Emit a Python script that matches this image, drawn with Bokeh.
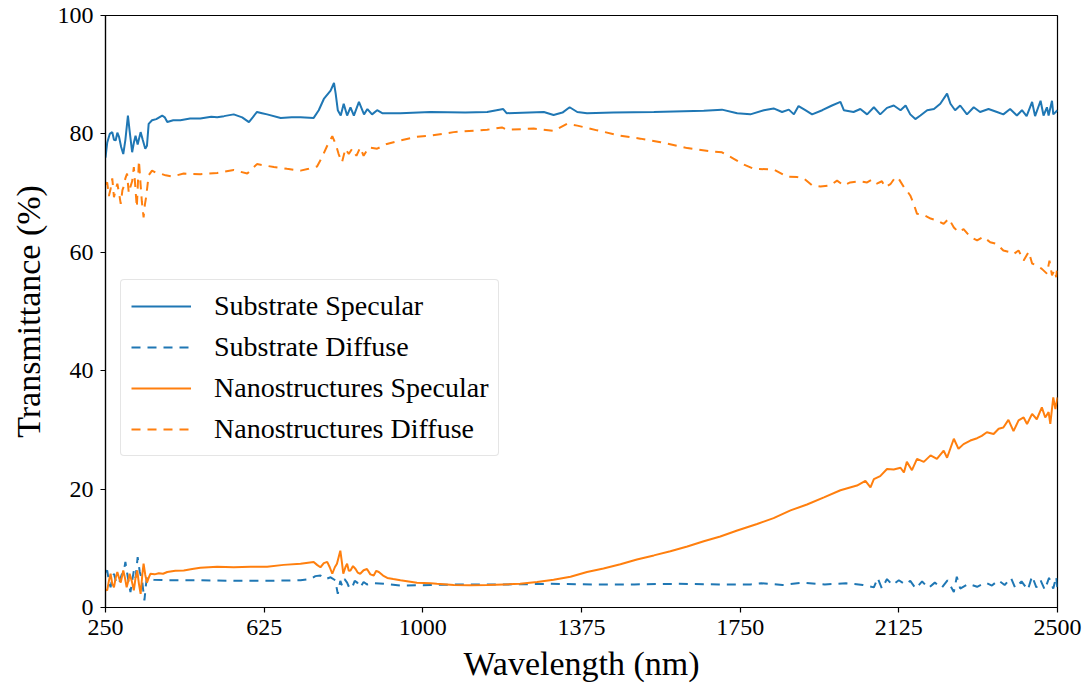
from bokeh.plotting import figure
from bokeh.models import Range1d, FixedTicker, Legend, LegendItem
from bokeh.embed import file_html
from bokeh.resources import INLINE

# ---- data ----
ss_x = [250, 254, 260, 266, 270, 274, 278, 282, 287, 292, 297, 303, 307, 313, 317, 321, 326, 333, 338, 344,
        348, 352, 360, 370, 384, 390, 396, 410, 427, 450, 474, 500, 514, 530, 553, 573, 589, 598, 608, 620,
        632, 664, 690, 711, 742, 754, 766, 782, 790, 794, 799, 806, 813, 821, 829, 837, 849, 861, 869, 880,
        892, 904, 947, 1018, 1100, 1152, 1190, 1198, 1286, 1309, 1330, 1347, 1365, 1388, 1450, 1546, 1664,
        1707, 1743, 1774, 1806, 1829, 1849, 1865, 1877, 1888, 1904, 1920, 1944, 1967, 1987, 1995, 2018, 2034,
        2050, 2066, 2081, 2097, 2113, 2129, 2141, 2152, 2164, 2176, 2192, 2208, 2223, 2239, 2247, 2258, 2270,
        2286, 2302, 2317, 2337, 2357, 2372, 2388, 2404, 2416, 2427, 2440, 2447, 2460, 2467, 2475, 2479, 2487,
        2490, 2500]
ss_y = [76.0, 78.5, 80.0, 80.3, 79.0, 78.9, 80.2, 79.5, 77.8, 76.6, 79.0, 83.1, 80.5, 76.9, 78.5, 79.7, 78.2,
        80.3, 79.0, 77.5, 78.0, 81.7, 82.3, 82.5, 83.1, 82.8, 82.0, 82.3, 82.3, 82.6, 82.6, 82.9, 82.8, 83.0,
        83.3, 82.8, 82.0, 82.8, 83.7, 83.5, 83.3, 82.7, 82.8, 82.8, 82.7, 84.0, 85.9, 87.3, 88.6, 86.8, 84.0,
        83.1, 85.1, 83.1, 84.5, 83.1, 85.4, 83.3, 84.2, 83.3, 84.0, 83.5, 83.5, 83.7, 83.6, 83.7, 84.2, 83.5,
        83.7, 83.2, 83.6, 84.5, 83.7, 83.5, 83.6, 83.7, 83.9, 84.1, 83.5, 83.3, 84.0, 84.3, 83.7, 84.1, 83.3,
        84.7, 84.0, 83.3, 84.0, 84.8, 85.4, 84.0, 83.7, 84.2, 83.3, 84.5, 83.3, 84.4, 84.8, 84.0, 84.8, 83.3,
        82.5, 83.1, 84.0, 84.2, 85.1, 86.8, 85.1, 84.0, 84.8, 83.3, 84.5, 83.7, 84.2, 83.7, 83.3, 84.2, 83.1,
        84.0, 83.0, 85.4, 83.0, 85.6, 83.1, 84.5, 83.1, 85.6, 83.3, 84.0]

sd_x = [250, 254, 258, 262, 266, 270, 276, 282, 288, 293, 297, 303, 309, 313, 317, 321, 326, 331, 336, 342,
        345, 348, 356, 364, 396, 474, 553, 632, 711, 734, 746, 758, 770, 782, 793, 799, 805, 809, 815, 821,
        827, 833, 839, 845, 852, 860, 868, 880, 908, 947, 1018, 1100, 1200, 1300, 1400, 1500, 1600, 1700,
        1774, 1800, 1850, 1900, 1950, 2000, 2040, 2066, 2075, 2085, 2097, 2110, 2125, 2140, 2152, 2165, 2180,
        2195, 2210, 2226, 2240, 2255, 2262, 2270, 2290, 2310, 2330, 2345, 2360, 2375, 2390, 2400, 2415, 2430,
        2440, 2450, 2460, 2470, 2480, 2490, 2497, 2500]
sd_y = [6.0, 6.25, 4.5, 3.4, 5.0, 5.7, 4.0, 4.1, 5.5, 6.0, 7.7, 5.0, 2.6, 4.5, 6.25, 5.0, 8.5, 6.0, 4.8, 1.2,
        3.5, 5.1, 4.8, 4.7, 4.6, 4.6, 4.5, 4.5, 4.6, 4.8, 5.3, 5.4, 4.8, 5.1, 4.6, 2.3, 4.5, 3.7, 4.8, 4.2,
        3.2, 3.4, 4.5, 4.2, 3.4, 4.3, 3.9, 4.1, 4.0, 3.7, 3.8, 3.9, 3.9, 4.0, 3.9, 3.9, 4.0, 3.9, 3.9, 4.1,
        3.8, 4.2, 3.9, 4.1, 3.8, 3.4, 5.0, 3.2, 4.8, 3.8, 4.6, 3.9, 4.5, 3.2, 4.4, 3.3, 4.2, 3.3, 4.6, 2.6,
        5.2, 3.2, 4.0, 3.5, 4.2, 3.7, 4.6, 3.8, 5.0, 3.3, 4.4, 3.0, 5.3, 3.4, 4.6, 3.0, 5.0, 3.2, 5.2, 3.0]

ns_x = [250, 254, 258, 262, 266, 270, 274, 278, 282, 286, 292, 296, 300, 304, 307, 312, 317, 321, 325, 329,
        333, 337, 340, 344, 348, 352, 356, 366, 376, 386, 396, 415, 435, 455, 474, 494, 514, 553, 593, 632,
        671, 711, 742, 750, 758, 766, 774, 780, 786, 792, 797, 801, 805, 809, 812, 817, 821, 825, 829, 835,
        841, 846, 852, 860, 868, 876, 884, 890, 896, 906, 916, 930, 947, 986, 1018, 1033, 1073, 1112, 1152,
        1191, 1230, 1270, 1309, 1349, 1388, 1427, 1467, 1506, 1546, 1585, 1625, 1664, 1703, 1743, 1790, 1829,
        1869, 1908, 1948, 1987, 2026, 2046, 2058, 2066, 2081, 2097, 2113, 2129, 2137, 2144, 2156, 2168, 2184,
        2200, 2215, 2231, 2239, 2255, 2266, 2278, 2294, 2310, 2321, 2333, 2349, 2361, 2372, 2384, 2396, 2408,
        2420, 2428, 2440, 2451, 2463, 2471, 2479, 2483, 2490, 2495, 2500]
ns_y = [3.0, 2.9, 4.5, 5.7, 4.0, 3.4, 5.0, 6.0, 5.0, 4.2, 6.25, 5.0, 3.4, 4.5, 5.7, 4.5, 2.9, 5.0, 6.25, 4.0,
        2.3, 5.5, 7.4, 5.5, 4.2, 5.0, 5.7, 5.6, 5.8, 5.7, 6.0, 6.2, 6.25, 6.5, 6.7, 6.8, 6.9, 6.8, 6.9, 6.9,
        7.2, 7.4, 7.7, 7.2, 6.8, 7.5, 7.7, 6.8, 5.7, 6.8, 7.4, 8.5, 9.6, 7.5, 5.7, 6.8, 7.4, 6.2, 6.25, 7.0,
        6.5, 5.9, 5.7, 6.3, 6.5, 5.6, 5.4, 6.2, 6.0, 5.4, 5.0, 4.8, 4.6, 4.2, 4.1, 4.0, 3.8, 3.75, 3.8,
        3.9, 4.0, 4.3, 4.7, 5.2, 6.0, 6.6, 7.3, 8.1, 8.8, 9.5, 10.3, 11.2, 12.0, 13.0, 14.1, 15.1,
        16.4, 17.4, 18.6, 19.8, 20.6, 21.4, 20.3, 21.7, 22.2, 23.4, 23.3, 23.6, 22.8, 24.6, 23.2, 25.1, 24.6,
        25.7, 25.1, 26.5, 25.3, 28.5, 26.8, 27.6, 28.2, 28.6, 29.0, 29.6, 29.3, 30.2, 30.4, 31.7, 29.8, 31.6,
        32.1, 31.0, 32.7, 31.8, 33.8, 32.1, 33.0, 31.0, 35.5, 33.5, 35.5]

nd_x = [250, 254, 258, 262, 266, 270, 274, 278, 282, 286, 290, 293, 297, 301, 305, 309, 313, 317, 320, 324,
        329, 333, 336, 340, 343, 346, 352, 360, 368, 380, 392, 407, 435, 474, 514, 553, 585, 608, 648, 679,
        711, 730, 750, 762, 774, 786, 794, 801, 809, 817, 825, 833, 843, 852, 860, 872, 892, 915, 947, 986,
        1018, 1073, 1152, 1187, 1199, 1262, 1309, 1341, 1365, 1412, 1467, 1514, 1562, 1625, 1688, 1707, 1735,
        1759, 1782, 1829, 1861, 1885, 1900, 1920, 1940, 1963, 1979, 1995, 2010, 2034, 2050, 2062, 2073, 2085,
        2093, 2105, 2117, 2125, 2137, 2144, 2152, 2160, 2168, 2184, 2200, 2215, 2231, 2243, 2255, 2266, 2278,
        2294, 2310, 2325, 2341, 2357, 2372, 2384, 2396, 2408, 2420, 2432, 2440, 2451, 2463, 2475, 2481, 2487,
        2493, 2497, 2500]
nd_y = [71.5, 71.8, 69.5, 70.7, 72.5, 69.3, 70.5, 71.6, 70.0, 68.2, 70.5, 71.1, 72.5, 73.3, 70.0, 71.1, 72.0,
        74.4, 71.5, 67.6, 75.5, 71.4, 68.5, 65.9, 68.0, 69.3, 73.0, 73.8, 73.5, 73.3, 73.0, 72.8, 73.3, 73.2,
        73.4, 73.9, 73.3, 74.9, 74.4, 74.1, 73.8, 74.1, 74.5, 76.1, 78.0, 79.6, 78.3, 76.6, 75.2, 77.5, 76.6,
        77.5, 76.3, 77.7, 76.3, 77.7, 77.5, 78.3, 78.9, 79.5, 79.7, 80.3, 80.7, 81.1, 80.7, 80.9, 80.5, 81.7,
        81.4, 80.6, 79.7, 79.2, 78.6, 77.6, 77.0, 76.9, 75.8, 74.8, 74.1, 74.0, 72.8, 72.7, 72.5, 71.3, 71.1,
        71.3, 72.1, 71.3, 71.8, 72.0, 71.8, 72.3, 71.6, 72.0, 71.0, 71.5, 72.7, 72.4, 71.0, 70.4, 69.6, 68.2,
        66.5, 66.3, 65.7, 65.4, 64.8, 65.7, 64.2, 63.4, 63.9, 62.6, 62.0, 62.6, 61.7, 61.4, 60.3, 60.1, 59.7,
        60.3, 58.6, 60.1, 58.1, 57.8, 57.2, 56.4, 58.6, 56.1, 57.0, 55.8, 58.0]

x_ticks = [250, 625, 1000, 1375, 1750, 2125, 2500]
y_ticks = [0, 20, 40, 60, 80, 100]

BLUE = "#1f77b4"
ORANGE = "#ff7f0e"
FONT = "Liberation Serif"
DASH = "9 7"

p = figure(width=1083, height=690, output_backend="svg", toolbar_location=None,
           x_range=Range1d(250, 2500), y_range=Range1d(0, 100),
           min_border_left=105, min_border_right=26, min_border_top=15, min_border_bottom=83)
p.background_fill_color = "white"
p.border_fill_color = "white"
p.grid.visible = False
p.outline_line_color = "black"
p.outline_line_width = 1.2

r1 = p.line(ss_x, ss_y, line_color=BLUE, line_width=2)
r2 = p.line(sd_x, sd_y, line_color=BLUE, line_width=2, line_dash=DASH)
r3 = p.line(ns_x, ns_y, line_color=ORANGE, line_width=2)
r4 = p.line(nd_x, nd_y, line_color=ORANGE, line_width=2, line_dash=DASH)

for ax in (p.xaxis[0], p.yaxis[0]):
    ax.axis_line_color = "black"
    ax.axis_line_width = 1.2
    ax.major_tick_line_color = "black"
    ax.major_tick_line_width = 1.2
    ax.major_tick_out = 5
    ax.major_tick_in = 0
    ax.minor_tick_line_color = None
    ax.major_label_text_font = FONT
    ax.major_label_text_font_size = "24px"
    ax.major_label_text_color = "black"
    ax.axis_label_text_font = FONT
    ax.axis_label_text_font_size = "34px"
    ax.axis_label_text_font_style = "normal"
    ax.axis_label_text_color = "black"

p.xaxis[0].ticker = FixedTicker(ticks=x_ticks)
p.yaxis[0].ticker = FixedTicker(ticks=y_ticks)
p.xaxis[0].axis_label = "Wavelength (nm)"
p.yaxis[0].axis_label = "Transmittance (%)"
p.xaxis[0].major_label_standoff = 7
p.yaxis[0].major_label_standoff = 7
p.xaxis[0].axis_label_standoff = 7
p.yaxis[0].axis_label_standoff = 8

legend = Legend(items=[
    LegendItem(label="Substrate Specular", renderers=[r1]),
    LegendItem(label="Substrate Diffuse", renderers=[r2]),
    LegendItem(label="Nanostructures Specular", renderers=[r3]),
    LegendItem(label="Nanostructures Diffuse", renderers=[r4]),
], location=(15, 151))
legend.label_text_font = FONT
legend.label_text_font_size = "28px"
legend.label_text_color = "black"
legend.glyph_width = 60
legend.glyph_height = 28
legend.label_height = 28
legend.label_standoff = 23
legend.spacing = 9
legend.padding = 10
legend.margin = 0
legend.border_line_color = "#cccccc"
legend.border_line_width = 1.2
legend.border_radius = 4
legend.background_fill_color = "white"
legend.background_fill_alpha = 0.8
p.add_layout(legend, "center")

open("out.html", "w").write(file_html(p, INLINE))
